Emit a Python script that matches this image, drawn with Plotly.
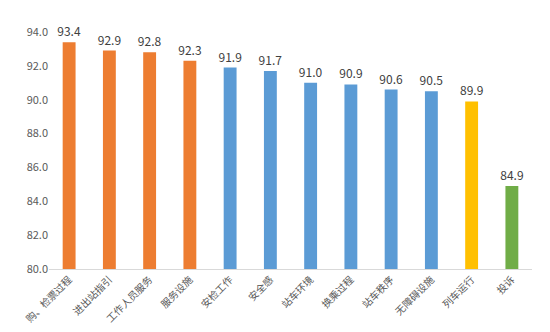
import plotly.graph_objects as go

categories = ["购、检票过程", "进出站指引", "工作人员服务", "服务设施", "安检工作", "安全感",
              "站车环境", "换乘过程", "站车秩序", "无障碍设施", "列车运行", "投诉"]
values = [93.4, 92.9, 92.8, 92.3, 91.9, 91.7, 91.0, 90.9, 90.6, 90.5, 89.9, 84.9]
colors = ["#ED7D31"] * 4 + ["#5B9BD5"] * 6 + ["#FFC000", "#70AD47"]
y_ticks = [80, 82, 84, 86, 88, 90, 92, 94]

font_family = "Noto Sans CJK SC, Microsoft YaHei, sans-serif"

fig = go.Figure(go.Bar(
    x=categories,
    y=values,
    marker=dict(color=colors, line=dict(width=0)),
    text=[f"{v:.1f}" for v in values],
    textposition="outside",
    constraintext="none",
    cliponaxis=False,
    textfont=dict(size=12, color="#404040", family=font_family),
    width=0.32,
))

fig.update_layout(
    width=550, height=332,
    margin=dict(l=49, r=18, t=32, b=63, autoexpand=False),
    paper_bgcolor="white", plot_bgcolor="white",
    showlegend=False,
    font=dict(family=font_family, color="#595959"),
    xaxis=dict(
        tickangle=-45,
        tickfont=dict(size=10, color="#595959"),
        showline=True, linecolor="#D9D9D9", linewidth=1,
        showgrid=False, ticks="", automargin=False,
    ),
    yaxis=dict(
        range=[80, 94],
        tickvals=y_ticks,
        ticktext=[f"{t:.1f}" for t in y_ticks],
        tickfont=dict(size=11, color="#595959"),
        showgrid=False, zeroline=False, showline=False, ticks="",
        automargin=False,
    ),
)

fig.write_html("out.html")
